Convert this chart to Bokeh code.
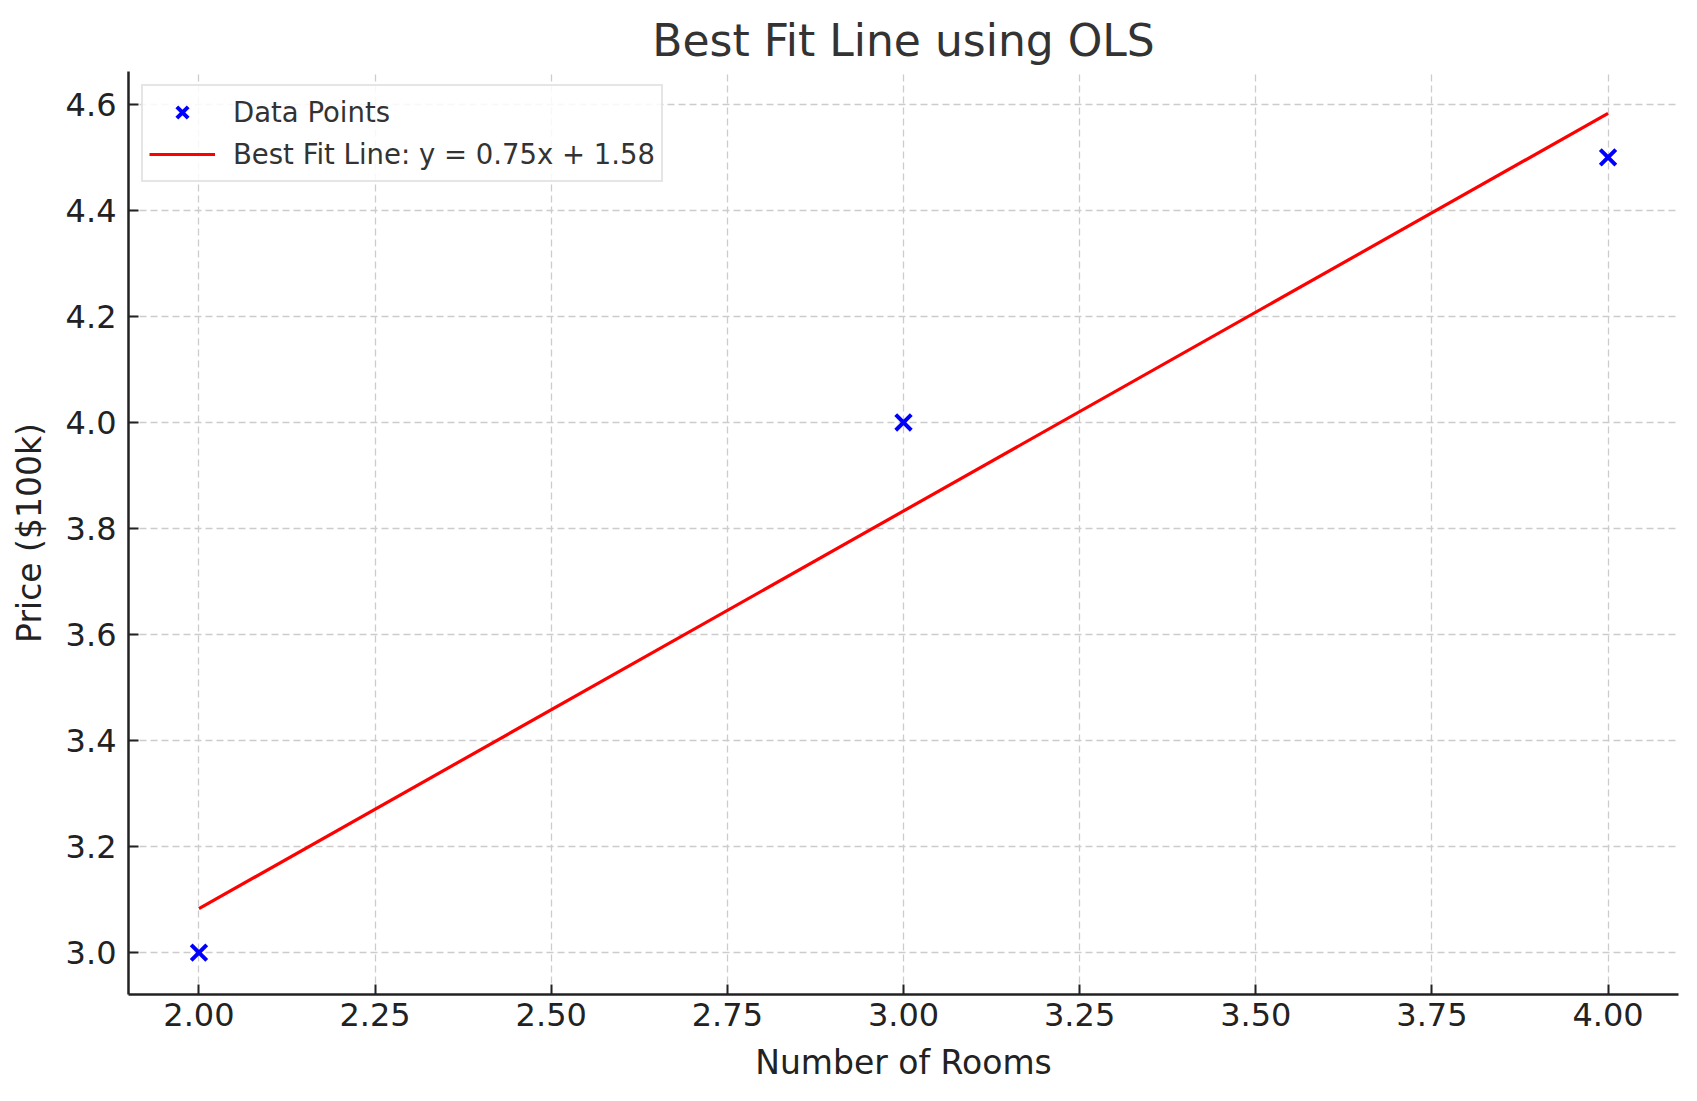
from bokeh.plotting import figure
from bokeh.models import Range1d, FixedTicker, CustomJSTickFormatter
from bokeh.embed import file_html
from bokeh.resources import INLINE

# data points (rooms vs price in $100k)
rooms = [2, 3, 4]
price = [3.0, 4.0, 4.5]

# fitted line end points
fit_x = [2, 4]
fit_y = [3.083, 4.583]

x_ticks = [2.0, 2.25, 2.5, 2.75, 3.0, 3.25, 3.5, 3.75, 4.0]
y_ticks = [3.0, 3.2, 3.4, 3.6, 3.8, 4.0, 4.2, 4.4, 4.6]

FONT = "DejaVu Sans"

p = figure(frame_width=1550, frame_height=923,
           min_border_left=128, min_border_right=19,
           min_border_top=71, min_border_bottom=107,
           x_range=Range1d(1.9, 4.1), y_range=Range1d(2.921, 4.662),
           title="Best Fit Line using OLS",
           x_axis_label="Number of Rooms", y_axis_label="Price ($100k)",
           output_backend="svg", toolbar_location=None)

p.scatter(rooms, price, marker="x", size=22, line_width=4, color="#0000ff",
          legend_label="Data Points")
p.line(fit_x, fit_y, line_width=3.2, line_color="#ff0000",
       legend_label="Best Fit Line: y = 0.75x + 1.58")

p.outline_line_color = None
p.background_fill_color = "white"
p.border_fill_color = "white"

p.title.text_font = FONT
p.title.text_font_size = "44px"
p.title.text_font_style = "normal"
p.title.text_color = "#333333"
p.title.align = "center"
p.title.standoff = 12

for ax in (p.xaxis[0], p.yaxis[0]):
    ax.axis_line_color = "#222222"
    ax.axis_line_width = 2.5
    ax.major_tick_line_color = "#222222"
    ax.major_tick_line_width = 2
    ax.major_tick_in = 10
    ax.major_tick_out = 0
    ax.minor_tick_line_color = None
    ax.major_label_text_font = FONT
    ax.major_label_text_font_size = "32px"
    ax.major_label_text_color = "#222222"
    ax.axis_label_text_font = FONT
    ax.axis_label_text_font_size = "33px"
    ax.axis_label_text_font_style = "normal"
    ax.axis_label_text_color = "#222222"

p.xaxis.ticker = FixedTicker(ticks=x_ticks)
p.yaxis.ticker = FixedTicker(ticks=y_ticks)
p.xaxis.formatter = CustomJSTickFormatter(code="return tick.toFixed(2)")
p.yaxis.formatter = CustomJSTickFormatter(code="return tick.toFixed(1)")
p.xaxis.major_label_standoff = 8
p.yaxis.major_label_standoff = 12
p.xaxis.axis_label_standoff = 14
p.yaxis.axis_label_standoff = 14

p.grid.grid_line_color = "#cccccc"
p.grid.grid_line_width = 1.3
p.grid.grid_line_dash = "7 4"

lg = p.legend[0]
lg.location = "top_left"
lg.margin = 13
lg.padding = 6
lg.spacing = 2
lg.glyph_width = 66
lg.glyph_height = 40
lg.label_height = 40
lg.label_standoff = 18
lg.label_text_font = FONT
lg.label_text_font_size = "27.5px"
lg.label_text_color = "#333333"
lg.border_line_color = "#cccccc"
lg.border_line_width = 2
lg.background_fill_alpha = 0.85

open("out.html", "w").write(file_html(p, INLINE))
